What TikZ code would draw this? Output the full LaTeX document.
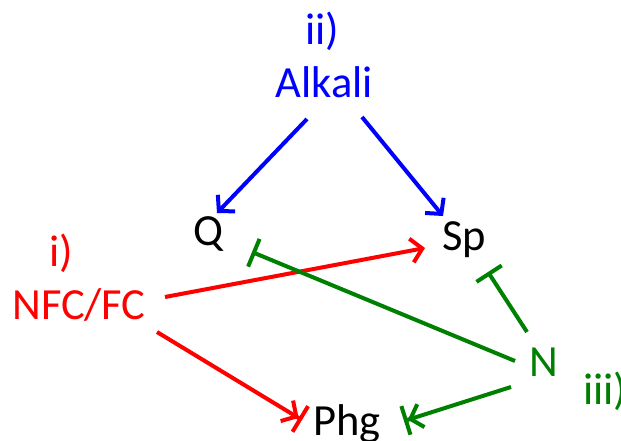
\documentclass[tikz,border=0pt]{standalone}
\usepackage{fontspec}
\setmainfont{Carlito}
\usetikzlibrary{arrows.meta}
\definecolor{alkblue}{RGB}{0,0,255}
\definecolor{fcred}{RGB}{255,0,0}
\definecolor{ngreen}{RGB}{0,128,0}

\begin{document}
\begin{tikzpicture}[x=1pt,y=-1pt,
  lbl/.style={anchor=base,inner sep=0pt,font=\fontsize{44.5}{52}\selectfont},
  act/.style={line width=4pt,-{Straight Barb[length=11pt,width=24pt]}},
  inh/.style={line width=4pt,-{Bar[width=30pt]}},
  actinh/.style={line width=4pt,-{Straight Barb[length=11pt,width=24pt]Bar[width=30pt]}}]
  \useasboundingbox (0,0) rectangle (621,441);

  \node[lbl,alkblue] (labii) at (322,45) {ii)};
  \node[lbl,alkblue] (alkali) at (324.5,98) {Alkali};
  \node[lbl] (q) at (208,245) {Q};
  \node[lbl] (sp) at (464,250) {Sp};
  \node[lbl,fcred] (labi) at (61,266) {i)};
  \node[lbl,fcred] (nfc) at (79,319) {NFC/FC};
  \node[lbl,ngreen] (n) at (544,376) {N};
  \node[lbl,ngreen,anchor=base west] (labiii) at (583,404) {iii)};
  \node[lbl] (phg) at (347,435) {Phg};

  \draw[act,alkblue] ([shift={(-17.5,21)}]alkali.base) -- ([shift={(9,-32)}]q.base);
  \draw[act,alkblue] ([shift={(37.5,19)}]alkali.base) -- ([shift={(-21,-34)}]sp.base);

  \draw[act,fcred] ([shift={(86,-22)}]nfc.base) -- ([shift={(-39,-2)}]sp.base);
  \draw[actinh,fcred] ([shift={(78,13)}]nfc.base) -- ([shift={(-45,-15)}]phg.base);

  \draw[inh,ngreen] ([shift={(-29,-15)}]n.base) -- ([shift={(44,7)}]q.base);
  \draw[inh,ngreen] ([shift={(-17,-44)}]n.base) -- ([shift={(24,22)}]sp.base);
  \draw[actinh,ngreen] ([shift={(-33,11)}]n.base) -- ([shift={(57,-14)}]phg.base);
\end{tikzpicture}
\end{document}
